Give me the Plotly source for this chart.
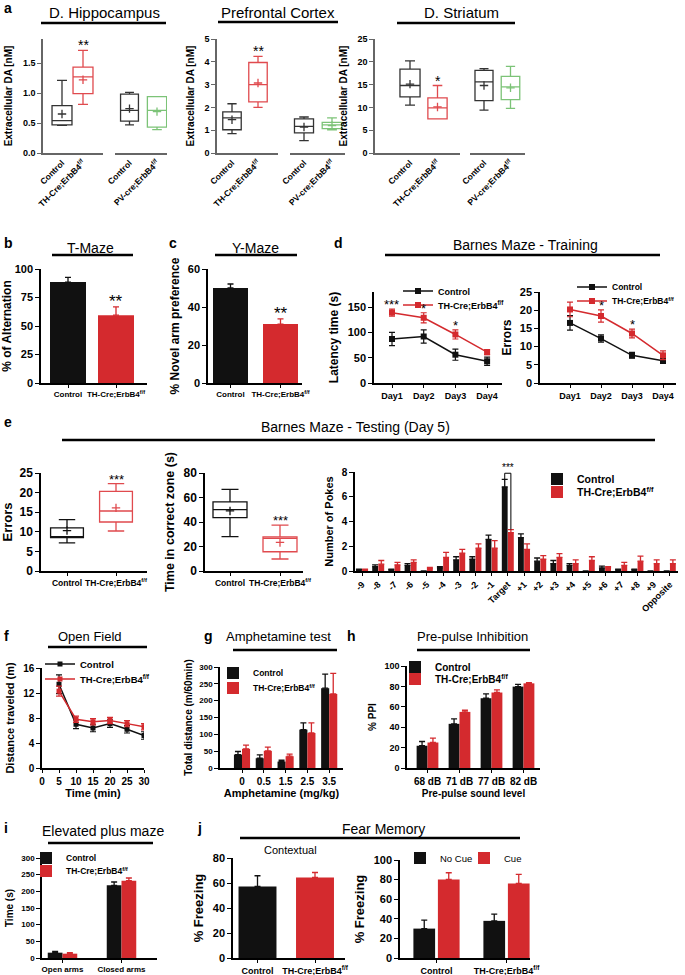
import plotly.graph_objects as go

W, H = 685, 975
FONT = "Liberation Sans, Arial, sans-serif"
BLACK = "#111111"
RED = "#d42a2e"
BOXRED = "#e04a4e"
GREEN = "#7cc377"
BOXBLACK = "#333333"
AXGRAY = "#666666"

CTRL = "Control"
THF = "TH-Cre;ErbB4<sup>f/f</sup>"
PVF = "PV-cre;ErbB4<sup>f/f</sup>"

# ================= DATA =================
# (a) box summaries: [lower whisker, Q1, median, Q3, upper whisker, mean]
hip_control_th = [0.46, 0.47, 0.54, 0.79, 1.21, 0.65]
hip_th = [0.81, 0.99, 1.27, 1.43, 1.71, 1.22]
hip_control_pv = [0.47, 0.53, 0.71, 0.98, 1.01, 0.74]
hip_pv = [0.39, 0.43, 0.71, 0.94, 0.94, 0.69]
pfc_control_th = [0.85, 1.02, 1.54, 1.80, 2.16, 1.46]
pfc_th = [2.00, 2.24, 3.00, 3.97, 4.24, 3.07]
pfc_control_pv = [0.54, 0.88, 1.17, 1.50, 1.58, 1.14]
pfc_pv = [1.02, 1.07, 1.23, 1.34, 1.54, 1.20]
str_control_th = [10.5, 12.3, 14.8, 18.4, 20.2, 15.1]
str_th = [7.5, 7.5, 9.9, 12.1, 14.8, 10.1]
str_control_pv = [9.4, 11.5, 15.6, 18.1, 18.5, 14.8]
str_pv = [9.8, 11.7, 14.5, 16.8, 19.0, 14.3]

# (b) T-maze, (c) Y-maze
tmaze_mean = [88.5, 59.5]
tmaze_sem = [4.2, 7.2]
ymaze_mean = [50.0, 31.0]
ymaze_sem = [2.1, 2.7]

# (d) Barnes maze training
days = ["Day1", "Day2", "Day3", "Day4"]
lat_ctrl = [87, 92, 56, 43]
lat_ctrl_sem = [13, 13, 11, 8]
lat_th = [139, 129, 96, 61]
lat_th_sem = [7, 10, 9, 5]
err_ctrl = [16.5, 12.2, 7.6, 6.1]
err_ctrl_sem = [2.0, 1.0, 0.8, 0.7]
err_th = [20.2, 18.4, 13.6, 7.6]
err_th_sem = [2.0, 1.7, 1.2, 1.2]

# (e) Barnes maze testing
test_err_ctrl = [7.2, 8.5, 8.6, 11.0, 13.1, 10.3]
test_err_th = [10.2, 12.5, 15.3, 20.3, 22.3, 16.1]
zone_ctrl = [28.0, 43.6, 50.1, 56.4, 66.7, 49.0]
zone_th = [9.8, 15.7, 26.6, 27.9, 37.4, 23.3]
holes = ["-9", "-8", "-7", "-6", "-5", "-4", "-3", "-2", "-1", "Target",
         "+1", "+2", "+3", "+4", "+5", "+6", "+7", "+8", "+9", "Opposite"]
pokes_ctrl = [0.1, 0.35, 0.1, 0.45, 0.0, 0.25, 0.9, 0.95, 2.55, 6.8,
              2.7, 0.8, 0.6, 0.45, 0.0, 0.25, 0.1, 0.1, 0.0, 0.0]
pokes_ctrl_sem = [0.05, 0.15, 0.05, 0.15, 0.0, 0.1, 0.25, 0.2, 0.35, 0.6,
                  0.3, 0.25, 0.25, 0.15, 0.0, 0.15, 0.05, 0.05, 0.0, 0.0]
pokes_th = [0.1, 0.55, 0.5, 0.7, 0.2, 1.1, 1.45, 1.85, 1.85, 3.1,
            1.75, 0.95, 1.1, 0.6, 0.85, 0.25, 0.45, 0.8, 0.6, 0.6]
pokes_th_sem = [0.05, 0.3, 0.2, 0.2, 0.1, 0.4, 0.3, 0.35, 0.6, 0.25,
                0.45, 0.3, 0.3, 0.3, 0.3, 0.1, 0.25, 0.4, 0.3, 0.3]

# (f) open field
of_time = [5, 10, 15, 20, 25, 30]
of_ctrl = [13.4, 7.0, 6.4, 7.1, 6.2, 5.2]
of_ctrl_sem = [1.5, 0.7, 0.6, 0.6, 0.6, 0.6]
of_th = [12.3, 7.8, 7.4, 7.6, 7.1, 6.6]
of_th_sem = [0.8, 0.5, 0.5, 0.5, 0.5, 0.5]

# (g) amphetamine
amph_dose = ["0", "0.5", "1.5", "2.5", "3.5"]
amph_ctrl = [40, 29, 19, 114, 237]
amph_ctrl_sem = [9, 10, 4, 20, 42]
amph_th = [57, 51, 35, 104, 220]
amph_th_sem = [11, 11, 6, 30, 61]

# (h) PPI
ppi_level = ["68 dB", "71 dB", "77 dB", "82 dB"]
ppi_ctrl = [21.8, 43.3, 68.4, 79.8]
ppi_ctrl_sem = [4.2, 4.9, 4.2, 2.2]
ppi_th = [25.0, 55.0, 74.0, 83.0]
ppi_th_sem = [4.3, 1.6, 2.6, 0.7]

# (i) elevated plus maze
epm_arms = ["Open arms", "Closed arms"]
epm_ctrl = [16, 218]
epm_ctrl_sem = [4, 10]
epm_th = [13, 232]
epm_th_sem = [3, 8]

# (j) fear memory
ctx_mean = [57.2, 64.4]
ctx_sem = [8.6, 4.0]
cue_groups = [CTRL, THF]
nocue_mean = [30.0, 37.9]
nocue_sem = [8.6, 6.8]
cue_mean = [80.2, 76.1]
cue_sem = [6.8, 9.2]

# ================= FIGURE =================
fig = go.Figure()
L = dict(width=W, height=H, margin=dict(l=0, r=0, t=0, b=0, autoexpand=False),
         paper_bgcolor="white", plot_bgcolor="white",
         font=dict(family=FONT, color="black", size=10),
         barmode="overlay", showlegend=True)
ann = []
shp = []


def sfx(n):
    return "" if n == 1 else str(n)


def cat_range(x0, x1, c0, step):
    return [(x0 - c0) / step, (x1 - c0) / step]


def add_x(n, x0, x1, rng, cats=None, **kw):
    d = dict(domain=[x0 / W, x1 / W], range=rng, anchor="y" + sfx(n),
             showline=True, linecolor="black", linewidth=1.5, showgrid=False,
             zeroline=False, ticks="outside", ticklen=3, tickwidth=1.2,
             tickcolor="black", tickangle=0,
             tickfont=dict(size=9, weight="bold"), fixedrange=True)
    if cats is not None:
        d.update(type="category", categoryorder="array", categoryarray=cats)
    d.update(kw)
    L["xaxis" + sfx(n)] = d


def add_y(n, ytop, ybot, rng, title=None, tsize=11, standoff=6, **kw):
    d = dict(domain=[1 - ybot / H, 1 - ytop / H], range=rng, anchor="x" + sfx(n),
             showline=True, linecolor="black", linewidth=1.5, showgrid=False,
             zeroline=False, ticks="outside", ticklen=4, tickwidth=1.2,
             tickcolor="black", tickfont=dict(size=10, weight="bold"),
             fixedrange=True)
    if title:
        d["title"] = dict(text=title, font=dict(size=tsize, weight="bold"),
                          standoff=standoff)
    d.update(kw)
    L["yaxis" + sfx(n)] = d


def xy(n):
    return dict(xaxis="x" + sfx(n), yaxis="y" + sfx(n))


def add_box(n, cat, stats, color, width):
    lo, q1, med, q3, hi, mean = stats
    fig.add_trace(go.Box(x=[cat], lowerfence=[lo], q1=[q1], median=[med], q3=[q3],
                         upperfence=[hi], orientation="v", fillcolor="white",
                         line=dict(color=color, width=1.3), width=width,
                         whiskerwidth=0.5, boxpoints=False, showlegend=False,
                         hoverinfo="skip", **xy(n)))
    fig.add_trace(go.Scatter(x=[cat], y=[mean], mode="markers",
                             marker=dict(symbol="cross-thin", size=6, color=color,
                                         line=dict(color=color, width=1.3)),
                             showlegend=False, hoverinfo="skip", **xy(n)))


def add_bar(n, cats, vals, sems, color, width, offset, legend=None, name=None):
    fig.add_trace(go.Bar(x=cats, y=vals, width=width, offset=offset,
                         marker=dict(color=color, line=dict(width=0)),
                         error_y=dict(type="data", array=sems,
                                      arrayminus=[0] * len(sems), symmetric=False,
                                      color=color, thickness=1.3, width=3),
                         name=name, showlegend=legend is not None,
                         legend=legend if legend else "legend",
                         hoverinfo="skip", **xy(n)))


def add_line(n, xs, vals, sems, color, legend=None, name=None, msize=6):
    fig.add_trace(go.Scatter(x=xs, y=vals, mode="lines+markers",
                             line=dict(color=color, width=1.5),
                             marker=dict(symbol="square", size=msize, color=color),
                             error_y=dict(type="data", array=sems, color=color,
                                          thickness=1.2, width=3),
                             name=name, showlegend=legend is not None,
                             legend=legend if legend else "legend",
                             hoverinfo="skip", **xy(n)))


leg_count = [0]


def new_legend(xpx, ypx, size=10, bold=True, orientation="v"):
    leg_count[0] += 1
    nm = "legend" + sfx(leg_count[0])
    L[nm] = dict(x=xpx / W, y=1 - ypx / H, xanchor="left", yanchor="middle",
                 bgcolor="rgba(0,0,0,0)", borderwidth=0, itemwidth=30,
                 orientation=orientation, tracegroupgap=0,
                 font=dict(size=size, weight="bold" if bold else "normal"))
    return nm


def star(n, x, y, text, size=14, yshift=-4):
    ann.append(dict(text=text, x=x, y=y, xref="x" + sfx(n), yref="y" + sfx(n),
                    showarrow=False, xanchor="center", yanchor="bottom",
                    yshift=yshift, font=dict(size=size, color="black")))


def title(text, cx, cy, x0, x1, ly, size=13):
    ann.append(dict(text=text, x=cx / W, y=1 - cy / H, xref="paper", yref="paper",
                    showarrow=False, xanchor="center", yanchor="middle",
                    font=dict(size=size)))
    shp.append(dict(type="line", xref="paper", yref="paper", x0=x0 / W, x1=x1 / W,
                    y0=1 - ly / H, y1=1 - ly / H, line=dict(color="black", width=2.5)))


def letter(t, x, y):
    ann.append(dict(text=t, x=x / W, y=1 - y / H, xref="paper", yref="paper",
                    showarrow=False, xanchor="left", yanchor="middle",
                    font=dict(size=14, weight="bold")))


# ---------------- panel a ----------------
acat_th = [CTRL, THF]
acat_pv = [CTRL, PVF]
a_xkw = dict(linecolor=AXGRAY, ticks="", tickangle=-45, tickfont=dict(size=8.5, weight="bold"))
a_ykw = dict(linecolor=AXGRAY, tickcolor=AXGRAY, tickfont=dict(size=9, weight="bold"))
AT, AB = 39, 153

# Hippocampus
add_x(1, 43, 103, cat_range(43, 103, 62, 21), acat_th, **a_xkw)
add_y(1, AT, AB, [0, 1.9], title="Extracellular DA [nM]", tsize=10, standoff=8,
      tickvals=[0, 0.5, 1.0, 1.5], tickformat=".1f", **a_ykw)
add_x(2, 115, 167, cat_range(115, 167, 129.5, 27.5), acat_pv, **a_xkw)
add_y(2, AT, AB, [0, 1.9], visible=False)
add_box(1, CTRL, hip_control_th, BOXBLACK, 0.95)
add_box(1, THF, hip_th, BOXRED, 0.95)
add_box(2, CTRL, hip_control_pv, BOXBLACK, 0.65)
add_box(2, PVF, hip_pv, GREEN, 0.7)
star(1, THF, hip_th[4], "**", 14, -5)

# Prefrontal cortex
add_x(3, 217, 278, cat_range(217, 278, 232, 26), acat_th, **a_xkw)
add_y(3, AT, AB, [0, 5], title="Extracellular DA [nM]", tsize=10, standoff=8,
      dtick=1, **a_ykw)
add_x(4, 290, 345, cat_range(290, 345, 304, 28), acat_pv, **a_xkw)
add_y(4, AT, AB, [0, 5], visible=False)
add_box(3, CTRL, pfc_control_th, BOXBLACK, 0.71)
add_box(3, THF, pfc_th, BOXRED, 0.71)
add_box(4, CTRL, pfc_control_pv, BOXBLACK, 0.68)
add_box(4, PVF, pfc_pv, GREEN, 0.7)
star(3, THF, pfc_th[4], "**", 14, -5)

# Striatum
add_x(5, 375, 460, cat_range(375, 460, 410, 27.5), acat_th, **a_xkw)
add_y(5, AT, AB, [0, 25], title="Extracellular DA [nM]", tsize=10, standoff=8,
      dtick=5, **a_ykw)
add_x(6, 470, 525, cat_range(470, 525, 484, 26.5), acat_pv, **a_xkw)
add_y(6, AT, AB, [0, 25], visible=False)
add_box(5, CTRL, str_control_th, BOXBLACK, 0.73)
add_box(5, THF, str_th, BOXRED, 0.7)
add_box(6, CTRL, str_control_pv, BOXBLACK, 0.68)
add_box(6, PVF, str_pv, GREEN, 0.7)
star(5, THF, str_th[4], "*", 14, -5)

title("D. Hippocampus", 104, 13, 41, 166, 23, 15)
title("Prefrontal Cortex", 278, 13, 218, 338, 22, 15)
title("D. Striatum", 461, 13, 397, 515, 23, 15)
letter("a", 2, 8)

# ---------------- panel b / c ----------------
grp = [CTRL, THF]
add_x(7, 41, 147, cat_range(41, 147, 68, 48), grp, tickfont=dict(size=8, weight="bold"))
add_y(7, 269, 383, [0, 100], title="% of Alternation", tsize=12, standoff=6,
      dtick=25, tickfont=dict(size=11, weight="bold"))
add_bar(7, [CTRL], tmaze_mean[:1], tmaze_sem[:1], BLACK, 0.75, -0.375)
add_bar(7, [THF], tmaze_mean[1:], tmaze_sem[1:], RED, 0.75, -0.375)
star(7, THF, tmaze_mean[1] + tmaze_sem[1], "**", 17, -6)
title("T-Maze", 90, 248, 52, 133, 255, 14)
letter("b", 2, 243)

add_x(8, 208, 302, cat_range(208, 302, 230.5, 50), grp, tickfont=dict(size=8, weight="bold"))
add_y(8, 269, 383, [0, 60], title="% Novel arm preference", tsize=12, standoff=6,
      dtick=20, tickfont=dict(size=11, weight="bold"))
add_bar(8, [CTRL], ymaze_mean[:1], ymaze_sem[:1], BLACK, 0.7, -0.35)
add_bar(8, [THF], ymaze_mean[1:], ymaze_sem[1:], RED, 0.7, -0.35)
star(8, THF, ymaze_mean[1] + ymaze_sem[1], "**", 17, -6)
title("Y-Maze", 255, 248, 215, 297, 255, 14)
letter("c", 167, 243)

# ---------------- panel d ----------------
add_x(9, 374, 502, cat_range(374, 502, 392, 31.7), days, tickfont=dict(size=9, weight="bold"))
add_y(9, 292, 383, [0, 180], title="Latency time (s)", tsize=12, standoff=6,
      tickvals=[0, 50, 100, 150], tickfont=dict(size=11, weight="bold"))
lg = new_legend(398, 291, 9)
add_line(9, days, lat_ctrl, lat_ctrl_sem, BLACK, lg, CTRL)
lg = new_legend(398, 305, 9)
add_line(9, days, lat_th, lat_th_sem, RED, lg, THF)
for i, s in zip([0, 1, 2], ["***", "*", "*"]):
    star(9, days[i], max(lat_ctrl[i] + lat_ctrl_sem[i], lat_th[i] + lat_th_sem[i]), s, 13, -5)

add_x(10, 540, 676, cat_range(540, 676, 570, 31), days, tickfont=dict(size=9, weight="bold"))
add_y(10, 292, 383, [0, 25], title="Errors", tsize=12, standoff=6,
      dtick=5, tickfont=dict(size=11, weight="bold"))
lg = new_legend(572, 287, 8.5)
add_line(10, days, err_ctrl, err_ctrl_sem, BLACK, lg, CTRL)
lg = new_legend(572, 301, 8.5)
add_line(10, days, err_th, err_th_sem, RED, lg, THF)
for i in [1, 2]:
    star(10, days[i], err_th[i] + err_th_sem[i], "*", 13, -5)
title("Barnes Maze - Training", 525, 245, 385, 660, 255, 14)
letter("d", 332, 243)

# ---------------- panel e ----------------
add_x(11, 41, 147, cat_range(41, 147, 67, 49), grp, tickfont=dict(size=8.5, weight="bold"))
add_y(11, 473, 571, [0, 25], title="Errors", tsize=13, standoff=6,
      dtick=5, tickfont=dict(size=12, weight="bold"))
add_box(11, CTRL, test_err_ctrl, BLACK, 0.67)
add_box(11, THF, test_err_th, BOXRED, 0.67)
star(11, THF, test_err_th[4], "***", 13, -5)

add_x(12, 205, 303, cat_range(205, 303, 230, 50), grp, tickfont=dict(size=8.5, weight="bold"))
add_y(12, 473, 571, [0, 80], title="Time in correct zone (s)", tsize=12.5, standoff=6,
      dtick=20, tickfont=dict(size=12, weight="bold"))
add_box(12, CTRL, zone_ctrl, BLACK, 0.68)
add_box(12, THF, zone_th, BOXRED, 0.68)
star(12, THF, zone_th[4], "***", 13, -5)

add_x(13, 355, 678, cat_range(355, 678, 362, 16.2), holes, tickangle=-45,
      tickfont=dict(size=9, weight="bold"))
add_y(13, 472, 571, [0, 8], title="Number of Pokes", tsize=11, standoff=6,
      dtick=2, tickfont=dict(size=10, weight="bold"))
lg = new_legend(537, 479, 10.5)
add_bar(13, holes, pokes_ctrl, pokes_ctrl_sem, BLACK, 0.36, -0.37, lg, CTRL)
lg = new_legend(537, 492, 10.5)
add_bar(13, holes, pokes_th, pokes_th_sem, RED, 0.36, 0.01, lg, THF)
ti = holes.index("Target")
c_top = pokes_ctrl[ti] + pokes_ctrl_sem[ti]
t_top = pokes_th[ti] + pokes_th_sem[ti]
br_y = c_top + 0.5
xc, xt = ti - 0.19, ti + 0.19
for (x0, y0, x1, y1) in [(xc, c_top, xc, br_y), (xc, br_y, xt, br_y), (xt, br_y, xt, t_top)]:
    shp.append(dict(type="line", xref="x13", yref="y13", x0=x0, x1=x1, y0=y0, y1=y1,
                    line=dict(color="black", width=1)))
ann.append(dict(text="***", x=ti, y=br_y, xref="x13", yref="y13", showarrow=False,
                yanchor="bottom", yshift=-2, font=dict(size=10)))

title("Barnes Maze - Testing (Day 5)", 355, 427, 62, 655, 440, 14)
letter("e", 2, 422)

# ---------------- panel f ----------------
add_x(14, 42, 144, [0, 30], dtick=5, tickfont=dict(size=10, weight="bold"),
      title=dict(text="Time (min)", font=dict(size=11, weight="bold"), standoff=4))
add_y(14, 668, 768, [0, 16], title="Distance traveled (m)", tsize=11, standoff=6,
      dtick=4, tickfont=dict(size=10, weight="bold"))
lg = new_legend(40, 664, 9.5)
add_line(14, of_time, of_ctrl, of_ctrl_sem, BLACK, lg, CTRL, 5)
lg = new_legend(40, 679, 9.5)
add_line(14, of_time, of_th, of_th_sem, RED, lg, THF, 5)
title("Open Field", 90, 636, 48, 147, 647, 13)
letter("f", 2, 636)

# ---------------- panel g ----------------
add_x(15, 220, 343, cat_range(220, 343, 242, 21.8), amph_dose,
      tickfont=dict(size=10, weight="bold"),
      title=dict(text="Amphetamine (mg/kg)", font=dict(size=11, weight="bold"), standoff=4))
add_y(15, 667, 768, [0, 300], title="Total distance (m/60min)", tsize=10, standoff=5,
      dtick=50, tickfont=dict(size=8, weight="bold"))
lg = new_legend(213, 673, 8.5)
add_bar(15, amph_dose, amph_ctrl, amph_ctrl_sem, BLACK, 0.37, -0.37, lg, CTRL)
lg = new_legend(213, 688, 8.5)
add_bar(15, amph_dose, amph_th, amph_th_sem, RED, 0.37, 0.0, lg, THF)
title("Amphetamine test", 278, 636, 233, 337, 650, 13)
letter("g", 202, 636)

# ---------------- panel h ----------------
add_x(16, 407, 540, cat_range(407, 540, 427.5, 32), ppi_level,
      tickfont=dict(size=10, weight="bold"),
      title=dict(text="Pre-pulse sound level", font=dict(size=10, weight="bold"), standoff=4))
add_y(16, 666, 768, [0, 100], title="% PPI", tsize=10, standoff=6,
      dtick=20, tickfont=dict(size=9, weight="bold"))
lg = new_legend(395, 667, 10)
add_bar(16, ppi_level, ppi_ctrl, ppi_ctrl_sem, BLACK, 0.34, -0.34, lg, CTRL)
lg = new_legend(395, 679, 10)
add_bar(16, ppi_level, ppi_th, ppi_th_sem, RED, 0.34, 0.0, lg, THF)
title("Pre-pulse Inhibition", 472, 636, 417, 530, 650, 13)
letter("h", 345, 636)

# ---------------- panel i ----------------
add_x(17, 42, 157, cat_range(42, 157, 62.5, 59), epm_arms, tickfont=dict(size=8, weight="bold"))
add_y(17, 858, 958, [0, 300], title="Time (s)", tsize=10, standoff=6,
      dtick=50, tickfont=dict(size=8, weight="bold"))
lg = new_legend(26, 858, 8.5)
add_bar(17, epm_arms, epm_ctrl, epm_ctrl_sem, BLACK, 0.25, -0.25, lg, CTRL)
lg = new_legend(26, 871, 8.5)
add_bar(17, epm_arms, epm_th, epm_th_sem, RED, 0.25, 0.0, lg, THF)
title("Elevated plus maze", 103, 831, 48, 153, 843, 14)
letter("i", 2, 828)

# ---------------- panel j ----------------
add_x(18, 233, 345, cat_range(233, 345, 257.5, 57.5), grp, tickfont=dict(size=9, weight="bold"))
add_y(18, 858, 958, [0, 80], title="% Freezing", tsize=13, standoff=6,
      dtick=20, tickfont=dict(size=11, weight="bold"))
add_bar(18, [CTRL], ctx_mean[:1], ctx_sem[:1], BLACK, 0.66, -0.33)
add_bar(18, [THF], ctx_mean[1:], ctx_sem[1:], RED, 0.66, -0.33)
ann.append(dict(text="Contextual", x=290 / W, y=1 - 858 / H, xref="paper", yref="paper",
                showarrow=False, font=dict(size=11)))

add_x(19, 400, 530, cat_range(400, 530, 436.5, 70), cue_groups, tickfont=dict(size=9, weight="bold"))
add_y(19, 860, 958, [0, 100], title="% Freezing", tsize=13, standoff=6,
      dtick=20, tickfont=dict(size=11, weight="bold"))
lg = new_legend(400, 858, 9.5, bold=False)
add_bar(19, cue_groups, nocue_mean, nocue_sem, BLACK, 0.31, -0.33, lg, "No Cue")
lg = new_legend(464, 858, 9.5, bold=False)
add_bar(19, cue_groups, cue_mean, cue_sem, RED, 0.31, 0.02, lg, "Cue")
title("Fear Memory", 383, 829, 240, 520, 838, 14)
letter("j", 195, 828)

L["annotations"] = ann
L["shapes"] = shp
fig.update_layout(**L)
fig.write_html("out.html", config={"displayModeBar": False},
               post_script="document.body.style.margin='0px';document.body.style.overflow='hidden';")
